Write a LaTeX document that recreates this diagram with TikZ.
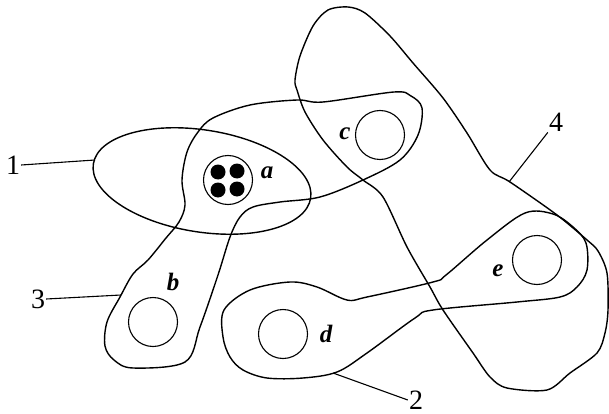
\documentclass[tikz,border=0pt]{standalone}
\usepackage{fontspec}
\setmainfont{Liberation Serif}
\begin{document}
\begin{tikzpicture}[x=1pt,y=-1pt,
  outline/.style={line width=1.4pt, line join=round},
  elem/.style={circle, draw, line width=1.1pt, minimum size=49pt, inner sep=0pt},
  dot/.style={circle, fill, minimum size=15pt, inner sep=0pt},
  num/.style={font=\fontsize{28}{28}\selectfont, inner sep=1pt},
  let/.style={font=\fontsize{25}{25}\selectfont\bfseries\itshape, inner sep=0pt},
  leader/.style={line width=1.1pt}]
\useasboundingbox[fill=white] (0,0) rectangle (609,414);

% set 1 : ellipse
\draw[outline, rotate around={-9:(202,181)}] (202,181) ellipse [x radius=110, y radius=51];

% set 3
\draw[outline] plot[smooth cycle, tension=0.55] coordinates {
 (133,368) (185,362) (200,327) (218,275) (230,237) (240,217) (253,207)
 (280,202) (320,197) (363,180) (400,160) (418,135) (422,108) (411,96) (394,92)
 (323,102) (297,100) (250,105) (213,118) (198,132) (187,152) (182,180) (185,205)
 (179,222) (166,238) (148,260) (133,274) (120,297) (107,322) (105,346) (114,360)};

% set 4
\draw[outline] plot[smooth cycle, tension=0.5] coordinates {
 (348,7) (365,13) (390,36) (413,63) (443,98) (467,133) (490,170) (510,182)
 (557,215) (587,240) (598,251) (607,273) (608,310) (605,333) (597,353)
 (570,373) (547,390) (507,388) (490,377) (473,353) (443,310) (430,287)
 (407,247) (383,197) (363,180) (347,167) (323,140) (305,112) (297,90)
 (295,80) (300,56) (313,26) (328,10)};

% set 2
\draw[outline] plot[smooth cycle, tension=0.55] coordinates {
 (224,310) (250,290) (290,282) (317,287) (347,300) (367,297) (433,282)
 (446,275) (487,240) (525,213) (553,214) (573,227) (586,243) (587,270)
 (577,287) (560,297) (517,302) (433,310) (415,318) (367,353) (337,372)
 (303,378) (267,378) (243,370) (230,357) (223,337)};

% elements
\node[elem] (a) at (228,180) {};
\node[dot] (a1) at (218,172) {};
\node[dot] (a2) at (237,171) {};
\node[dot] (a3) at (218,190) {};
\node[dot] (a4) at (237,189) {};
\node[elem] (b) at (153,322) {};
\node[elem] (c) at (380,135) {};
\node[elem] (d) at (283,334) {};
\node[elem] (e) at (537,260) {};

\node[let] (la) at (267,173) {a};
\node[let] (lb) at (173,282) {b};
\node[let] (lc) at (345,134) {c};
\node[let] (ld) at (326,334) {d};
\node[let] (le) at (498,271) {e};

% set labels
\node[num] (n1) at (13,165) {1};
\node[num] (n2) at (416,400) {2};
\node[num] (n3) at (38,299) {3};
\node[num] (n4) at (556,122) {4};
\coordinate (p1) at (95,160);
\coordinate (p2) at (333,373);
\coordinate (p3) at (121,295);
\coordinate (p4) at (509,182);
\draw[leader] (n1.east) -- (p1);
\draw[leader] (n2.west) -- (p2);
\draw[leader] (n3.east) -- (p3);
\draw[leader] (n4.south west) -- (p4);
\end{tikzpicture}
\end{document}
